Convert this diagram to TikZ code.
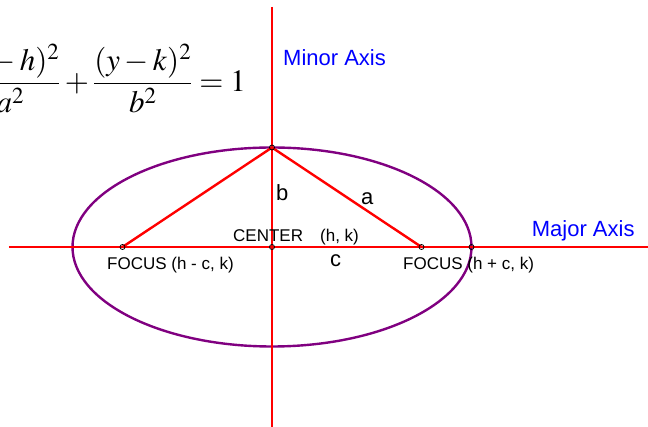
\documentclass[tikz,border=0pt]{standalone}
\usepackage{amsmath}
\usepackage{mathptmx}
\usepackage{fontspec}
\setmainfont{Liberation Sans}
\usetikzlibrary{positioning}
\definecolor{axred}{RGB}{255,0,0}
\definecolor{elpurple}{RGB}{128,0,128}
\definecolor{axblue}{RGB}{0,0,255}

\begin{document}
\begin{tikzpicture}[x=1pt, y=1pt,
  axis/.style={axred, line width=2.6pt},
  ell/.style={elpurple, line width=2.4pt},
  tri/.style={axred, line width=2.4pt},
  pt/.style={circle, draw=black, line width=0.8pt, inner sep=0pt, minimum size=5pt},
  lbl/.style={inner sep=0pt, anchor=base west, font=\fontsize{17}{20}\selectfont},
  big/.style={inner sep=0pt, anchor=base west, font=\fontsize{22}{26}\selectfont},
  axlbl/.style={big, axblue}
]
  \useasboundingbox (-272,-180) rectangle (376,247);
  \clip (-272,-180) rectangle (376,247);

  % Points
  \coordinate (C)  at (0,0);
  \coordinate (F1) at (-149.5,0);
  \coordinate (F2) at (149.5,0);
  \coordinate (V)  at (0,99.5);
  \coordinate (Vr) at (199.5,0);
  \coordinate (L)  at (-263,0);
  \coordinate (R)  at (376,0);
  \coordinate (T)  at (0,240);
  \coordinate (B)  at (0,-180);

  % Ellipse
  \draw[ell] (C) ellipse [x radius=199.5, y radius=99.5];

  % Axes and triangle
  \draw[axis] (L) -- (R);
  \draw[axis] (T) -- (B);
  \draw[tri] (F1) -- (V) -- (F2);

  \node[pt] (f1) at (F1) {};
  \node[pt] (f2) at (F2) {};
  \node[pt] (ctr) at (C) {};
  \node[pt] (top) at (V) {};
  \node[pt] (rgt) at (Vr) {};

  % Labels
  \node[axlbl] (minor) at (11,181.3) {Minor Axis};
  \node[axlbl] (major) at (259.7,10.3) {Major Axis};
  \node[lbl] (foc1) at (-165,-23) {FOCUS (h - c, k)};
  \node[lbl] (foc2) at (131,-23) {FOCUS (h + c, k)};
  \node[lbl] (cen) at (-39,5) {CENTER};
  \node[lbl] (hk) at (48,5) {(h, k)};
  \node[big] (lc) at (58,-20) {c};
  \node[big] (lb) at (4,46) {b};
  \node[big] (la) at (89,42) {a};

  % Equation
  \node[inner sep=0pt, anchor=base east, font=\fontsize{31}{36}\selectfont] (eqn)
    at (-26,155.5) {$\dfrac{(x-h)^2}{a^2}+\dfrac{(y-k)^2}{b^2}=1$};
\end{tikzpicture}
\end{document}
